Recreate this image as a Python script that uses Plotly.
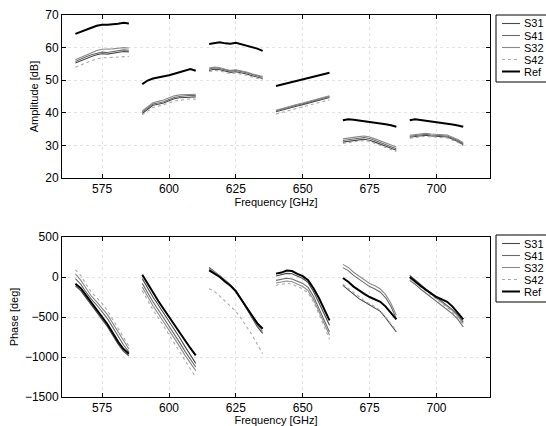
import plotly.graph_objects as go

# ---------------- data ----------------
band_starts = [565, 590, 615, 640, 665, 690]
band_offsets = [0, 2, 4, 6, 8, 10, 12, 14, 16, 18, 20]
series_names = ["S31", "S41", "S32", "S42", "Ref"]
x_ticks = [575, 600, 625, 650, 675, 700]

amp_ref = [
    [64.2, 64.9, 65.5, 66.1, 66.7, 67.0, 67.0, 67.1, 67.3, 67.6, 67.4],
    [48.8, 49.9, 50.5, 50.8, 51.0, 51.5, 52.0, 52.5, 53.0, 53.4, 52.9],
    [61.1, 61.4, 61.6, 61.3, 61.2, 61.5, 61.1, 60.7, 60.2, 59.7, 59.0],
    [48.2, 48.6, 49.0, 49.4, 49.9, 50.3, 50.6, 51.0, 51.4, 51.8, 52.3],
    [37.7, 38.0, 37.9, 37.7, 37.5, 37.3, 37.0, 36.7, 36.5, 36.2, 35.7],
    [37.7, 38.0, 37.8, 37.6, 37.4, 37.2, 37.0, 36.7, 36.4, 36.1, 35.7],
]
amp_s31 = [
    [55.3, 56.0, 56.7, 57.3, 57.8, 58.1, 58.0, 58.2, 58.5, 58.8, 58.7],
    [39.8, 41.0, 42.3, 42.6, 43.0, 43.7, 44.3, 44.6, 44.7, 45.0, 44.9],
    [53.0, 53.4, 53.2, 52.7, 52.4, 52.6, 52.3, 51.9, 51.4, 51.0, 50.5],
    [40.3, 40.8, 41.2, 41.6, 42.1, 42.5, 42.9, 43.4, 43.8, 44.2, 44.7],
    [31.0, 31.3, 31.6, 31.7, 31.9, 31.6, 31.0, 30.4, 29.8, 29.3, 28.5],
    [32.5, 32.7, 33.0, 33.1, 32.9, 32.8, 32.9, 32.6, 31.9, 31.2, 30.2],
]
amp_s41 = [
    [55.7, 56.5, 57.2, 57.8, 58.3, 58.6, 58.5, 58.7, 59.0, 59.3, 59.2],
    [40.2, 41.5, 42.7, 43.0, 43.4, 44.1, 44.7, 45.0, 45.2, 45.4, 45.3],
    [53.4, 53.8, 53.6, 53.1, 52.8, 53.0, 52.7, 52.3, 51.8, 51.4, 50.9],
    [40.6, 41.1, 41.5, 41.9, 42.4, 42.8, 43.2, 43.7, 44.1, 44.5, 45.0],
    [31.5, 31.8, 32.1, 32.2, 32.4, 32.1, 31.5, 30.9, 30.3, 29.8, 29.0],
    [32.8, 33.0, 33.3, 33.4, 33.2, 33.1, 33.2, 32.9, 32.2, 31.5, 30.5],
]
amp_s32 = [
    [56.3, 57.0, 57.8, 58.5, 59.1, 59.5, 59.5, 59.6, 59.8, 60.0, 59.9],
    [40.6, 41.9, 43.1, 43.5, 43.9, 44.6, 45.2, 45.5, 45.6, 45.8, 45.7],
    [53.7, 54.0, 53.8, 53.3, 53.0, 53.2, 52.9, 52.5, 52.0, 51.6, 51.1],
    [40.8, 41.3, 41.7, 42.1, 42.6, 43.0, 43.4, 43.9, 44.3, 44.7, 45.2],
    [32.0, 32.3, 32.6, 32.7, 32.9, 32.6, 32.0, 31.4, 30.8, 30.3, 29.5],
    [33.1, 33.3, 33.6, 33.7, 33.5, 33.4, 33.5, 33.2, 32.5, 31.8, 30.8],
]
amp_s42 = [
    [54.0, 54.7, 55.4, 56.0, 56.5, 56.9, 56.9, 57.0, 57.2, 57.4, 57.3],
    [39.4, 40.4, 41.6, 42.0, 42.4, 43.0, 43.6, 43.9, 44.1, 44.3, 44.2],
    [52.6, 53.0, 52.8, 52.3, 52.0, 52.2, 51.9, 51.5, 51.0, 50.6, 50.1],
    [39.6, 40.1, 40.5, 40.9, 41.4, 41.8, 42.2, 42.7, 43.1, 43.5, 44.0],
    [30.6, 30.9, 31.2, 31.3, 31.5, 31.2, 30.6, 30.0, 29.4, 28.9, 28.1],
    [32.2, 32.4, 32.7, 32.8, 32.6, 32.5, 32.6, 32.3, 31.6, 30.9, 29.9],
]

ph_ref = [
    [-85, -140, -230, -320, -400, -490, -590, -700, -810, -900, -960],
    [29, -80, -200, -300, -400, -500, -600, -690, -790, -890, -980],
    [83, 40, 0, -60, -110, -180, -280, -390, -490, -580, -646],
    [42, 55, 80, 75, 40, 10, -40, -140, -260, -400, -542],
    [-12, -60, -120, -170, -210, -250, -280, -310, -370, -450, -529],
    [0, -60, -110, -160, -210, -250, -280, -310, -370, -450, -530],
]
ph_s31 = [
    [-110, -170, -260, -350, -430, -520, -620, -730, -840, -930, -985],
    [-20, -140, -250, -350, -450, -550, -660, -760, -870, -970, -1080],
    [120, 70, 20, -40, -100, -170, -280, -400, -510, -620, -705],
    [12, 25, 45, 40, 10, -20, -70, -180, -320, -470, -604],
    [-104, -160, -220, -270, -310, -350, -380, -430, -510, -600, -687],
    [21, -40, -100, -150, -200, -250, -300, -350, -410, -480, -560],
]
ph_s41 = [
    [-20, -90, -190, -280, -350, -430, -520, -630, -740, -850, -935],
    [-80, -200, -310, -410, -510, -610, -720, -820, -930, -1030, -1125],
    [100, 55, 10, -50, -105, -175, -270, -380, -480, -570, -640],
    [-42, -30, -15, -25, -55, -80, -130, -240, -390, -540, -687],
    [117, 80, 20, -30, -80, -120, -150, -190, -260, -370, -521],
    [-42, -90, -150, -200, -250, -300, -350, -400, -460, -530, -625],
]
ph_s32 = [
    [40, -40, -140, -240, -310, -390, -470, -580, -690, -800, -900],
    [-125, -250, -360, -460, -560, -660, -770, -870, -980, -1080, -1170],
    [110, 65, 15, -45, -100, -170, -275, -390, -500, -600, -680],
    [-75, -65, -50, -60, -90, -120, -170, -280, -430, -590, -729],
    [158, 120, 60, 10, -40, -80, -110, -150, -220, -330, -479],
    [-10, -60, -120, -170, -220, -270, -320, -360, -420, -490, -580],
]
ph_s42 = [
    [90, 20, -90, -190, -260, -330, -420, -530, -640, -750, -865],
    [-170, -300, -410, -510, -610, -720, -830, -940, -1040, -1150, -1250],
    [-146, -180, -240, -300, -360, -430, -520, -620, -720, -840, -958],
    [-104, -95, -80, -90, -120, -150, -200, -310, -460, -620, -780],
    [-90, -140, -200, -250, -295, -335, -370, -420, -500, -590, -670],
    [-20, -70, -130, -180, -230, -280, -330, -380, -440, -510, -600],
]

# ---------------- styling ----------------
colors = {"S31": "#4a4a4a", "S41": "#6a6a6a", "S32": "#8a8a8a", "S42": "#a8a8a8", "Ref": "#000000"}
widths = {"S31": 1.1, "S41": 1.1, "S32": 1.1, "S42": 1.1, "Ref": 2.0}
dashes = {"S31": "solid", "S41": "solid", "S32": "solid", "S42": "dot", "Ref": "solid"}
FONT = "Liberation Sans, Arial, sans-serif"

W, H = 546, 426
PL, PR, PT, PB = 62, 490, 15, 397   # plot-area pixel box (both panels)


def px_x(px):
    return (px - PL) / (PR - PL)


def px_y(py):
    return (PB - py) / (PB - PT)


def joined(bands):
    xs, ys = [], []
    for start, vals in zip(band_starts, bands):
        xs += [start + o for o in band_offsets] + [None]
        ys += list(vals) + [None]
    return xs, ys


amp = {"S31": amp_s31, "S41": amp_s41, "S32": amp_s32, "S42": amp_s42, "Ref": amp_ref}
ph = {"S31": ph_s31, "S41": ph_s41, "S32": ph_s32, "S42": ph_s42, "Ref": ph_ref}

fig = go.Figure()
for name in series_names:
    xs, ys = joined(amp[name])
    fig.add_trace(go.Scatter(x=xs, y=ys, mode="lines", name=name, xaxis="x", yaxis="y",
                             line=dict(color=colors[name], width=widths[name], dash=dashes[name]),
                             showlegend=False, connectgaps=False))
for name in series_names:
    xs, ys = joined(ph[name])
    fig.add_trace(go.Scatter(x=xs, y=ys, mode="lines", name=name, xaxis="x2", yaxis="y2",
                             line=dict(color=colors[name], width=widths[name], dash=dashes[name]),
                             showlegend=False, connectgaps=False))

# ---- legend boxes (drawn like the original MATLAB legends) ----
shapes, annotations = [], []
for box_top in (15, 235):
    shapes.append(dict(type="rect", xref="paper", yref="paper",
                       x0=px_x(496), x1=px_x(560), y0=px_y(box_top + 67), y1=px_y(box_top),
                       line=dict(color="black", width=1), fillcolor="white", layer="above"))
    for i, name in enumerate(series_names):
        yy = box_top + 8.5 + i * 12
        shapes.append(dict(type="line", xref="paper", yref="paper",
                           x0=px_x(502), x1=px_x(520), y0=px_y(yy), y1=px_y(yy),
                           line=dict(color=colors[name], width=widths[name], dash=dashes[name]),
                           layer="above"))
        annotations.append(dict(text=name, xref="paper", yref="paper", x=px_x(523), y=px_y(yy),
                                xanchor="left", yanchor="middle", showarrow=False,
                                borderpad=0, font=dict(family=FONT, size=11, color="black")))

axis_common = dict(showline=True, linecolor="black", linewidth=1, mirror="ticks",
                   ticks="inside", ticklen=4, tickcolor="black",
                   showgrid=True, gridcolor="#e2e2e2", griddash="dot", gridwidth=1,
                   zeroline=False, tickfont=dict(family=FONT, size=12, color="black"),
                   automargin=False)

top_dom = [px_y(178), 1.0]
bot_dom = [0.0, px_y(237)]

fig.update_layout(
    width=W, height=H,
    margin=dict(l=PL, r=W - PR, t=PT, b=H - PB),
    paper_bgcolor="white", plot_bgcolor="white",
    font=dict(family=FONT, size=11, color="black"),
    showlegend=False,
    xaxis=dict(axis_common, domain=[0, 1], range=[560, 720], tickvals=x_ticks, anchor="y",
               title=dict(text="Frequency [GHz]", standoff=2, font=dict(family=FONT, size=11))),
    yaxis=dict(axis_common, domain=top_dom, range=[20, 70], dtick=10, anchor="x",
               title=dict(text="Amplitude [dB]", standoff=4, font=dict(family=FONT, size=11))),
    xaxis2=dict(axis_common, domain=[0, 1], range=[560, 720], tickvals=x_ticks, anchor="y2",
                title=dict(text="Frequency [GHz]", standoff=0, font=dict(family=FONT, size=11))),
    yaxis2=dict(axis_common, domain=bot_dom, range=[-1500, 500], dtick=500, anchor="x2",
                title=dict(text="Phase [deg]", standoff=4, font=dict(family=FONT, size=11))),
    shapes=shapes,
    annotations=annotations,
)

fig.write_html("out.html")
